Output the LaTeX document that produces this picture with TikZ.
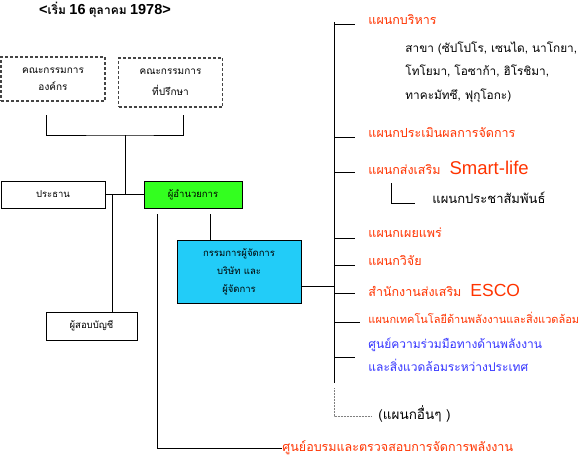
\documentclass[tikz,border=0pt]{standalone}
\usepackage{fontspec}
\setmainfont{Loma}[Script=Thai]
\newfontfamily\lat{Liberation Sans}
\definecolor{ored}{HTML}{FF3300}
\definecolor{tblue}{HTML}{3333FF}
\definecolor{gbox}{HTML}{33FF1F}
\definecolor{cbox}{HTML}{22CCF8}
\definecolor{dgray}{HTML}{444444}
\begin{document}
\begin{tikzpicture}[x=1pt,y=-1pt,
  line width=0.9pt,
  box/.style={draw, line width=0.9pt, inner sep=0pt, align=center, font=\fontsize{9.5}{17}\selectfont},
  dbox/.style={box, draw=dgray, dash pattern=on 3pt off 2pt, line width=1.1pt},
  red/.style={anchor=west, inner sep=0pt, text=ored, font=\fontsize{12.5}{14}\selectfont},
  blk/.style={anchor=west, inner sep=0pt, font=\fontsize{11.8}{23.5}\selectfont, align=left},
  blu/.style={anchor=west, inner sep=0pt, text=tblue, font=\fontsize{12}{23}\selectfont, align=left}
]
\useasboundingbox (0,0) rectangle (580,459);
% title
\node[inner sep=0pt, font=\bfseries] (title) at (105,10) {{\lat\fontsize{14.5}{15}\selectfont <}{\fontsize{12}{15}\selectfont เริ่ม} {\lat\fontsize{14.5}{15}\selectfont 16} {\fontsize{12}{15}\selectfont ตุลาคม} {\lat\fontsize{14.5}{15}\selectfont 1978>}};
% boxes
\node[dbox, minimum width=104pt, minimum height=44pt, font=\fontsize{10}{17}\selectfont] (b1) at (53,79) {คณะกรรมการ\\องค์กร};
\node[dbox, minimum width=104pt, minimum height=49pt, font=\fontsize{10}{21}\selectfont] (b2) at (170.5,82.5) {คณะกรรมการ\\ที่ปรึกษา};
\node[box, minimum width=104pt, minimum height=27pt] (pres) at (53,194.5) {ประธาน};
\node[box, fill=gbox, minimum width=98pt, minimum height=27pt] (dir) at (193,194.5) {ผู้อำนวยการ};
\node[box, minimum width=91pt, minimum height=28pt] (aud) at (91.5,326) {ผู้สอบบัญชี};
\node[box, fill=cbox, minimum width=124pt, minimum height=63pt, font=\fontsize{9.5}{18}\selectfont] (mgr) at (239,271.5) {กรรมการผู้จัดการ\\บริษัท และ\\ผู้จัดการ};
% bracket
\coordinate (bl) at (46,115);
\coordinate (br) at (183,115);
\coordinate (jc) at (125,135);
\coordinate (j1) at (125,194.5);
\coordinate (j2) at (112,194.5);
\draw (bl) |- (jc) -| (br);
\draw (jc) -- (j1);
\draw (pres.east) -- (dir.west);
\draw (j2) -- (j2 |- aud.north);
% director down
\coordinate (d1) at (157,214);
\coordinate (d2) at (210,214);
\node[red, anchor=west] (train) at (282,448) {ศูนย์อบรมและตรวจสอบการจัดการพลังงาน};
\draw (d1) |- (train.west);
\draw (d2) -- (d2 |- mgr.north);
% spine
\coordinate (sp0) at (334,22);
\coordinate (sp1) at (334,383);
\coordinate (sp2) at (334,388);
\coordinate (sp3) at (372,416);
\draw (sp0) -- (sp1);
\draw (mgr.east |- 0,286) -- (334,286);
\draw[gray, line width=0.7pt, dash pattern=on 1pt off 0.5pt] (sp2) |- (sp3);
\node[blk, font=\fontsize{13.5}{15}\selectfont] (oth) at (378,414) {(แผนกอื่นๆ )};
% branches
\node[red] (n1) at (368,20) {แผนกบริหาร};
\node[blk] (n1s) at (405,72) {สาขา (ซัปโปโร, เซนได, นาโกยา,\\โทโยมา, โอซาก้า, ฮิโรชิมา,\\ทาคะมัทซึ, ฟุกุโอกะ)};
\node[red] (n2) at (368,133) {แผนกประเมินผลการจัดการ};
\node[red] (n3) at (368,168) {แผนกส่งเสริม\hspace{9pt}{\lat\fontsize{18.5}{20}\selectfont Smart-life}};
\node[blk, font=\fontsize{13}{15}\selectfont] (n3s) at (432,198) {แผนกประชาสัมพันธ์};
\node[red] (n4) at (368,233) {แผนกเผยแพร่};
\node[red] (n5) at (368,261) {แผนกวิจัย};
\node[red] (n6) at (368,290) {สำนักงานส่งเสริม\hspace{9pt}{\lat\fontsize{17.5}{20}\selectfont ESCO}};
\node[red, font=\fontsize{11}{13}\selectfont] (n7) at (368,318) {แผนกเทคโนโลยีด้านพลังงานและสิ่งแวดล้อม};
\node[blu] (n8) at (368,355) {ศูนย์ความร่วมมือทางด้านพลังงาน\\และสิ่งแวดล้อมระหว่างประเทศ};
\foreach \y/\e in {24/355,137/355,172/355,238/355,265/355,293/355,322/360,357/355}{
  \draw (334,\y) -- (\e,\y);
}
\coordinate (s3a) at (391,183);
\coordinate (s3b) at (415,203);
\draw (s3a) |- (s3b);
\end{tikzpicture}
\end{document}
